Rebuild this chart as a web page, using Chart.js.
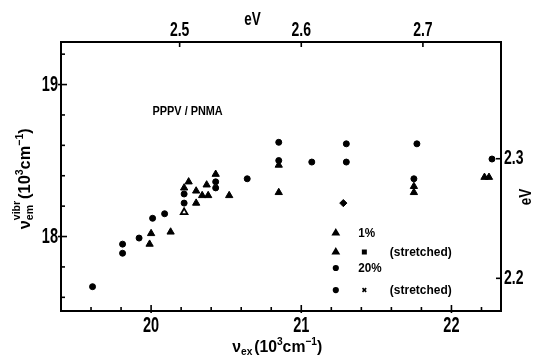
<!DOCTYPE html>
<html><head><meta charset="utf-8">
<script src="https://cdn.jsdelivr.net/npm/chart.js@4/dist/chart.umd.min.js"></script>
<style>html,body{margin:0;padding:0;background:#fff;overflow:hidden}</style>
</head><body>
<canvas id="c" width="536" height="361"></canvas>
<script>
// ---- data (x: excitation, y: vibronic emission, 10^3 cm^-1) ----
const pct1X = [19.99, 20.00, 20.13, 20.22, 20.25, 20.30, 20.30, 20.34, 20.38, 20.37, 20.43, 20.52, 20.85, 20.85, 21.75, 21.75, 22.22, 22.25];
const pct1Y = [17.95, 18.02, 18.03, 18.32, 18.36, 18.30, 18.22, 18.27, 18.27, 18.34, 18.41, 18.27, 18.29, 18.47, 18.33, 18.29, 18.39, 18.39];
const pct1OpenX = [20.22];
const pct1OpenY = [18.16];
const pct20X = [19.61, 19.81, 19.81, 19.92, 20.01, 20.09, 20.22, 20.22, 20.43, 20.43, 20.64, 20.85, 20.85, 21.07, 21.30, 21.30, 21.77, 21.75, 22.27];
const pct20Y = [17.67, 17.95, 17.89, 17.99, 18.12, 18.15, 18.22, 18.28, 18.36, 18.32, 18.38, 18.62, 18.50, 18.49, 18.61, 18.49, 18.61, 18.38, 18.51];
const pct20StrX = [21.28];
const pct20StrY = [18.22];

// ---- axes / ticks ----
const xTickLabels = [20, 21, 22];
const yTickLabels = [18, 19];
const eVTopLabels = [2.5, 2.6, 2.7];
const eVRightLabels = [2.2, 2.3];
const legendLabels = ['1%', '(stretched)', '20%', '(stretched)'];
const annotationText = 'PPPV / PNMA';

const X_MIN = 19.4, X_MAX = 22.33, Y_MIN = 17.51, Y_MAX = 19.28;
// eV <-> wavenumber correspondence as drawn in the figure
const topRef = 20.19, topSlope = 8.1;      // 2.5 eV at 20.19
const rightRef = 17.725, rightSlope = 7.87; // 2.2 eV at 17.725
const toTopEV = v => 2.5 + (v - topRef) / topSlope;
const toRightEV = v => 2.2 + (v - rightRef) / rightSlope;

const F = "'Liberation Sans',Arial,sans-serif";

function pts(xs, ys){ return xs.map((x,i)=>({x, y: ys[i]})); }

// condensed text: horizontal squeeze sx
function ct(ctx, text, x, y, sx, align, base){
  ctx.save();
  ctx.translate(x, y); ctx.scale(sx, 1);
  ctx.textAlign = align || 'left'; ctx.textBaseline = base || 'middle';
  ctx.fillText(text, 0, 0);
  ctx.restore();
}
function drawRich(ctx, segs, targetW){
  let w=0; for(const s of segs){ ctx.font = s.f; w += ctx.measureText(s.t).width + (s.gap||0); }
  const sx = targetW / w;
  ctx.save(); ctx.scale(sx, 1);
  let x = -w/2;
  ctx.textAlign='left'; ctx.textBaseline='alphabetic';
  for(const s of segs){
    ctx.font = s.f; ctx.fillText(s.t, x, s.dy||0);
    if(s.stack){ ctx.fillText(s.stack.t, x, s.stack.dy); }
    x += ctx.measureText(s.t).width + (s.gap||0);
  }
  ctx.restore();
}
function mark(ctx, style, r, x, y, bw){
  ctx.save();
  ctx.fillStyle = '#000'; ctx.strokeStyle='#000';
  Chart.helpers.drawPoint(ctx, {pointStyle: style, radius: r, borderWidth: bw, rotation: 0}, x, y);
  ctx.restore();
}

const decor = {
  id: 'decor',
  afterDraw(chart){
    const {ctx, chartArea: a, scales} = chart;
    const xs = scales.x, xt = scales.xTop, ys = scales.y, yr = scales.yR;
    ctx.save();
    ctx.strokeStyle = '#000'; ctx.fillStyle = '#000';
    ctx.lineWidth = 2;
    ctx.strokeRect(a.left, a.top, a.right - a.left, a.bottom - a.top);
    const line = (x1,y1,x2,y2)=>{ctx.beginPath();ctx.moveTo(x1,y1);ctx.lineTo(x2,y2);ctx.stroke();};
    ctx.lineWidth = 1.6;
    for(let i=98;i<=111;i++){
      const px = xs.getPixelForValue(i/5); const major = i%5===0;
      line(px, a.bottom + (major?2:0), px, a.bottom - (major?6:4));
    }
    for(let i=88;i<=96;i++){
      const py = ys.getPixelForValue(i/5); const major = i%5===0;
      line(a.left - (major?3:0), py, a.left + (major?6:4), py);
    }
    for(const v of eVTopLabels){ const px = xt.getPixelForValue(v); line(px, a.top, px, a.top + 5); }
    for(const v of eVRightLabels){ const py = yr.getPixelForValue(v); line(a.right + 1, py, a.right - 5, py); }

    // tick labels
    ctx.font = `bold 22px ${F}`;
    for(const v of xTickLabels) ct(ctx, String(v), xs.getPixelForValue(v), a.bottom + 15, 0.66, 'center');
    for(const v of yTickLabels) ct(ctx, String(v), a.left - 3, ys.getPixelForValue(v), 0.66, 'right');
    ctx.font = `bold 20px ${F}`;
    for(const v of eVTopLabels) ct(ctx, v.toFixed(1), xt.getPixelForValue(v), a.top - 12, 0.7, 'center');
    for(const v of eVRightLabels) ct(ctx, v.toFixed(1), a.right + 3, yr.getPixelForValue(v), 0.7, 'left');

    // eV titles
    ctx.font = `bold 18px ${F}`;
    ct(ctx, 'eV', xt.getPixelForValue(2.56), a.top - 22, 0.75, 'center');
    ctx.save();
    ctx.translate(a.right + 25, yr.getPixelForValue(2.268));
    ctx.rotate(-Math.PI/2);
    ctx.font = `bold 17px ${F}`;
    ct(ctx, 'eV', 0, 0, 0.8, 'center');
    ctx.restore();

    const big = `bold 17px ${F}`, sm = `bold 11px ${F}`;
    // bottom title
    ctx.save();
    ctx.translate(xs.getPixelForValue(20.84), a.bottom + 41);
    drawRich(ctx, [
      {t:'ν', f:big}, {t:'ex', f:sm, dy:3, gap:2}, {t:'(10', f:big}, {t:'3', f:sm, dy:-7},
      {t:'cm', f:big}, {t:'−1', f:sm, dy:-7}, {t:')', f:big}
    ], 90);
    ctx.restore();

    // left title (rotated)
    ctx.save();
    ctx.translate(a.left - 37, ys.getPixelForValue(18.38));
    ctx.rotate(-Math.PI/2);
    drawRich(ctx, [
      {t:'ν', f:big, dy:6}, {t:'vibr', f:sm, dy:-4, stack:{t:'em', dy:9}, gap:2},
      {t:'(10', f:big, dy:6}, {t:'3', f:sm, dy:-1}, {t:'cm', f:big, dy:6}, {t:'−1', f:sm, dy:-1}, {t:')', f:big, dy:6}
    ], 101);
    ctx.restore();

    // annotation
    ctx.font = `bold 12.5px ${F}`;
    ct(ctx, annotationText, xs.getPixelForValue(20.01), ys.getPixelForValue(18.82), 0.87, 'left');

    // legend
    const c0 = xs.getPixelForValue(21.23), c1 = xs.getPixelForValue(21.42);
    const tA = xs.getPixelForValue(21.38), tB = xs.getPixelForValue(21.59);
    const rows = [18.023, 17.898, 17.793, 17.648].map(v => ys.getPixelForValue(v));
    mark(ctx, 'triangle', 3.5, c0, rows[0], 1);
    mark(ctx, 'triangle', 3.5, c0, rows[1], 1);
    mark(ctx, 'rect', 2.4, c1, rows[1], 1);
    mark(ctx, 'circle', 2.3, c0, rows[2], 1);
    mark(ctx, 'circle', 2.3, c0, rows[3], 1);
    mark(ctx, 'crossRot', 2.6, c1, rows[3], 1.8);
    ctx.fillStyle='#000';
    ctx.font = `bold 13px ${F}`;
    ct(ctx, legendLabels[0], tA, rows[0], 0.9, 'left');
    ct(ctx, legendLabels[1], tB, rows[1], 0.92, 'left');
    ct(ctx, legendLabels[2], tA, rows[2], 0.9, 'left');
    ct(ctx, legendLabels[3], tB, rows[3], 0.92, 'left');
    ctx.restore();
  }
};

const hidden = { ticks: {display:false}, grid: {display:false, drawTicks:false}, border: {display:false}, title: {display:false} };

new Chart(document.getElementById('c'), {
  type: 'scatter',
  data: {
    datasets: [
      { label:'1%', data: pts(pct1X, pct1Y), pointStyle:'triangle', pointRadius:4.2, backgroundColor:'#000', borderColor:'#000', borderWidth:1 },
      { label:'1% open', data: pts(pct1OpenX, pct1OpenY), pointStyle:'triangle', pointRadius:3.8, backgroundColor:'#fff', borderColor:'#000', borderWidth:1.8 },
      { label:'20%', data: pts(pct20X, pct20Y), pointStyle:'circle', pointRadius:3, backgroundColor:'#000', borderColor:'#000', borderWidth:1 },
      { label:'20% stretched', data: pts(pct20StrX, pct20StrY), pointStyle:'rectRot', pointRadius:3.6, backgroundColor:'#000', borderColor:'#000', borderWidth:1 }
    ]
  },
  options: {
    responsive:false, animation:false, devicePixelRatio:1,
    layout:{ padding:0, autoPadding:false },
    plugins:{ legend:{display:false}, tooltip:{enabled:false} },
    scales: {
      x: { type:'linear', position:'bottom', min:X_MIN, max:X_MAX, ...hidden, afterFit(s){ s.height = 50; } },
      xTop: { type:'linear', position:'top', min:toTopEV(X_MIN), max:toTopEV(X_MAX), ...hidden, afterFit(s){ s.height = 42; } },
      y: { type:'linear', position:'left', min:Y_MIN, max:Y_MAX, ...hidden, afterFit(s){ s.width = 61; } },
      yR: { type:'linear', position:'right', min:toRightEV(Y_MIN), max:toRightEV(Y_MAX), ...hidden, afterFit(s){ s.width = 35; } }
    }
  },
  plugins: [decor]
});
</script>
</body></html>
